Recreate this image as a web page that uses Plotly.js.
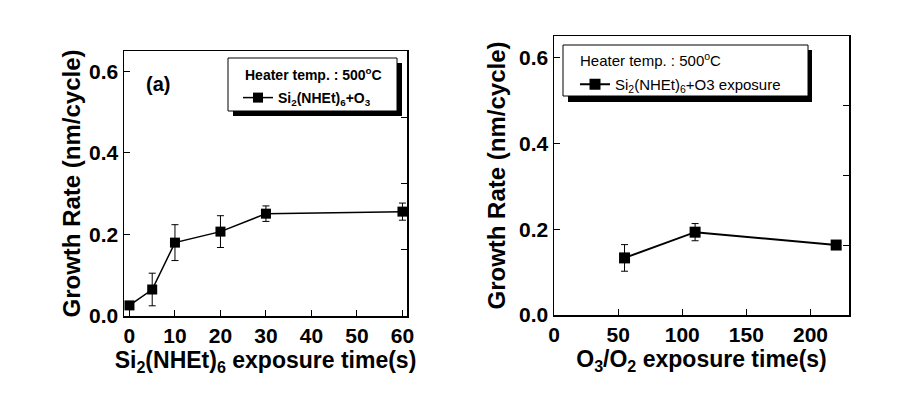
<!DOCTYPE html>
<html><head><meta charset="utf-8">
<script src="https://cdn.plot.ly/plotly-3.0.1.min.js"></script>
<style>body{margin:0;background:#fff}#chart{width:918px;height:402px}</style>
</head><body><div id="chart"></div>
<script>
// Panel (a): Si2(NHEt)6 exposure time
const xA = [0, 5, 10, 20, 30, 60];
const yA = [0.026, 0.065, 0.180, 0.207, 0.251, 0.256];
const errA = [0.006, 0.040, 0.044, 0.039, 0.019, 0.021];
// Panel (b): O3/O2 exposure time
const xB = [55, 110, 220];
const yB = [0.133, 0.193, 0.163];
const errB = [0.031, 0.020, 0.006];

const nameA = 'Si<sub>2</sub>(NHEt)<sub>6</sub>+O<sub>3</sub>';
const nameB = 'Si<sub>2</sub>(NHEt)<sub>6</sub>+O3 exposure';

const FONT = 'Liberation Sans, Arial, sans-serif';
const W = 918, H = 402;
const px = v => v / W, py = v => 1 - v / H;

const traces = [
  {x: xA, y: yA, type: 'scatter', mode: 'lines+markers', name: nameA,
   line: {color: '#000', width: 1.5}, marker: {symbol: 'square', size: 10, color: '#000'},
   error_y: {type: 'data', array: errA, visible: true, color: '#000', thickness: 1, width: 3.5},
   xaxis: 'x', yaxis: 'y', legend: 'legend'},
  {x: xB, y: yB, type: 'scatter', mode: 'lines+markers', name: nameB,
   line: {color: '#000', width: 2}, marker: {symbol: 'square', size: 11, color: '#000'},
   error_y: {type: 'data', array: errB, visible: true, color: '#000', thickness: 1, width: 3.5},
   xaxis: 'x2', yaxis: 'y2', legend: 'legend2'},
  {x: [null], y: [null], xaxis: 'x', yaxis: 'y3', showlegend: false, hoverinfo: 'skip', mode: 'markers'},
  {x: [null], y: [null], xaxis: 'x2', yaxis: 'y4', showlegend: false, hoverinfo: 'skip', mode: 'markers'}
];

const tickFont = {family: FONT, size: 21, color: '#000', weight: 'bold'};
const xTitleFont = {family: FONT, size: 23, color: '#000', weight: 'bold'};
const yTitleFont = {family: FONT, size: 24, color: '#000', weight: 'bold'};

function xax(domain, range, dtick, title, anchor) {
  return {domain, range, dtick, anchor, showline: true, mirror: true, linecolor: '#000', linewidth: 1.5,
    ticks: 'inside', ticklen: 6, tickwidth: 1, tickcolor: '#000', showgrid: false, zeroline: false,
    tickfont: tickFont, title: {text: title, font: xTitleFont, standoff: 4}};
}
function yax(domain, anchor, standoff) {
  return {domain, range: [0, 0.65], dtick: 0.2, tickformat: '.1f', anchor, showline: true, mirror: true,
    linecolor: '#000', linewidth: 1.5, ticks: 'inside', ticklen: 6, tickwidth: 1, tickcolor: '#000',
    showgrid: false, zeroline: false, tickfont: tickFont, ticklabelstandoff: 0,
    title: {text: 'Growth Rate (nm/cycle)', font: yTitleFont, standoff: standoff}};
}
function yside(overlay, anchor) {
  return {overlaying: overlay, side: 'right', anchor, range: [0, 1], tickvals: [0.25, 0.5, 0.75],
    ticks: 'inside', ticklen: 6, tickwidth: 1, tickcolor: '#000', showticklabels: false,
    showline: false, showgrid: false, zeroline: false};
}

const domXA = [px(124), px(407)], domYA = [py(316), py(51)];
const domXB = [px(554), px(849)], domYB = [py(315), py(36)];

const shapes = [
  // legend box (a): shadow then box
  {type: 'rect', xref: 'paper', yref: 'paper', x0: px(233), x1: px(402), y0: py(116), y1: py(63),
   fillcolor: '#000', line: {width: 0}, layer: 'above'},
  {type: 'rect', xref: 'paper', yref: 'paper', x0: px(228), x1: px(397), y0: py(111), y1: py(58),
   fillcolor: '#fff', line: {color: '#000', width: 1}, layer: 'above'},
  // legend box (b)
  {type: 'rect', xref: 'paper', yref: 'paper', x0: px(568), x1: px(812), y0: py(102), y1: py(50),
   fillcolor: '#000', line: {width: 0}, layer: 'above'},
  {type: 'rect', xref: 'paper', yref: 'paper', x0: px(563), x1: px(808), y0: py(96), y1: py(45),
   fillcolor: '#fff', line: {color: '#000', width: 1}, layer: 'above'}
];

const annotations = [
  {text: '(a)', xref: 'paper', yref: 'paper', x: px(144), y: py(84), xanchor: 'left', yanchor: 'middle',
   showarrow: false, font: {family: FONT, size: 20, color: '#000', weight: 'bold'}},
  {text: 'Heater temp. : 500<sup>o</sup>C', xref: 'paper', yref: 'paper', x: px(243), y: py(74),
   xanchor: 'left', yanchor: 'middle', showarrow: false,
   font: {family: FONT, size: 14, color: '#000', weight: 'bold'}},
  {text: 'Heater temp. : 500<sup>o</sup>C', xref: 'paper', yref: 'paper', x: px(578), y: py(60),
   xanchor: 'left', yanchor: 'middle', showarrow: false,
   font: {family: FONT, size: 15, color: '#000'}}
];

const layout = {
  width: W, height: H, margin: {l: 0, r: 0, t: 0, b: 0},
  paper_bgcolor: '#fff', plot_bgcolor: '#fff', showlegend: true,
  xaxis: xax(domXA, [-1.2, 61], 10, 'Si<sub>2</sub>(NHEt)<sub>6</sub> exposure time(s)', 'y'),
  yaxis: yax(domYA, 'x', 1),
  xaxis2: xax(domXB, [0, 230], 50, 'O<sub>3</sub>/O<sub>2</sub> exposure time(s)', 'y2'),
  yaxis2: yax(domYB, 'x2', 6),
  yaxis3: yside('y', 'x'),
  yaxis4: yside('y2', 'x2'),
  legend: {x: px(238), y: py(82), xanchor: 'left', yanchor: 'top', bgcolor: 'rgba(0,0,0,0)',
    borderwidth: 0, font: {family: FONT, size: 14, color: '#000', weight: 'bold'}, itemwidth: 30},
  legend2: {x: px(575), y: py(68), xanchor: 'left', yanchor: 'top', bgcolor: 'rgba(0,0,0,0)',
    borderwidth: 0, font: {family: FONT, size: 15, color: '#000'}, itemwidth: 30},
  shapes, annotations
};

Plotly.newPlot('chart', traces, layout, {displayModeBar: false, staticPlot: true});
</script>
</body></html>
